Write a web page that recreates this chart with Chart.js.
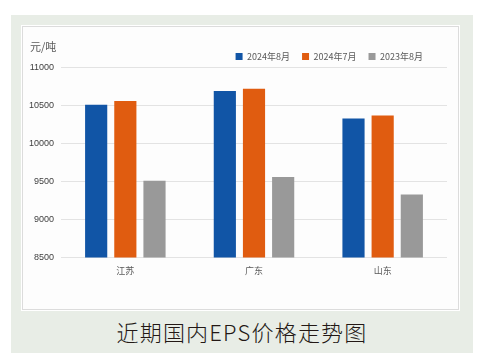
<!DOCTYPE html>
<html><head><meta charset="utf-8">
<script src="https://cdn.jsdelivr.net/npm/chart.js@4"></script>
<style>
html,body{margin:0;padding:0;background:#fff;width:484px;height:359px;overflow:hidden;font-family:"Noto Sans CJK SC",sans-serif;}
#bg{position:absolute;left:11px;top:15px;width:462px;height:338px;background:#e8ede6;}
#panel{position:absolute;left:21px;top:25px;width:439px;height:286px;background:#fff;}
#inner{position:absolute;left:1px;top:1px;width:435px;height:282px;border:1px solid #dcdcdc;background:#fdfdfd;}
#cv{position:absolute;left:0;top:0;}
#unit{position:absolute;left:30px;top:38px;font-size:11px;color:#595959;}
#cap{position:absolute;left:0;width:484px;top:315px;text-align:center;font-size:22px;color:#231815;letter-spacing:1.2px;font-weight:300;}
</style></head>
<body>
<div id="bg"></div>
<div id="panel"><div id="inner"></div><canvas id="cv" width="439" height="286"></canvas></div>
<div id="unit">元/吨</div>
<div id="cap">近期国内EPS价格走势图</div>
<script>
const categories = ["江苏", "广东", "山东"];
const seriesNames = ["2024年8月", "2024年7月", "2023年8月"];
const aug2024 = [10510, 10690, 10330];
const jul2024 = [10560, 10720, 10370];
const aug2023 = [9510, 9560, 9330];
const yTicks = [8500, 9000, 9500, 10000, 10500, 11000];
const colors = ["#1155a6", "#e05c10", "#999999"];

const shiftLegend = {
  id: 'shiftLegend',
  afterLayout(chart) {
    chart.legend.right -= 12;
    chart.legend.top += 3.5;
    chart.legend.bottom += 3.5;
  }
};

new Chart(document.getElementById('cv'), {
  type: 'bar',
  data: {
    labels: categories,
    datasets: [aug2024, jul2024, aug2023].map((d, i) => ({
      label: seriesNames[i], data: d, backgroundColor: colors[i],
      borderWidth: 0, barPercentage: 0.76, categoryPercentage: 0.68
    }))
  },
  options: {
    responsive: false, animation: false,
    layout: { padding: { left: 0, right: 13, top: 11.5, bottom: 34.7 } },
    plugins: {
      legend: {
        position: 'top', align: 'end',
        labels: { boxWidth: 7, boxHeight: 7, padding: 12, color: '#595959',
          font: { size: 9, family: '"Noto Sans CJK SC", sans-serif' } }
      },
      tooltip: { enabled: false }
    },
    scales: {
      x: {
        grid: { display: false }, border: { display: false },
        ticks: { color: '#595959', padding: 0, font: { size: 9, family: '"Noto Sans CJK SC", sans-serif' } }
      },
      y: {
        min: 8500, max: 11000,
        afterBuildTicks(s) { s.ticks = yTicks.map(v => ({ value: v })); },
        afterFit(s) { s.width = 40; },
        grid: { color: '#e3e3e3', drawTicks: false, lineWidth: 1 },
        border: { display: false },
        ticks: { color: '#404040', padding: 7, callback: v => String(v),
          font: { size: 9, family: '"Liberation Sans", sans-serif' } }
      }
    }
  },
  plugins: [shiftLegend]
});
</script>
</body></html>
